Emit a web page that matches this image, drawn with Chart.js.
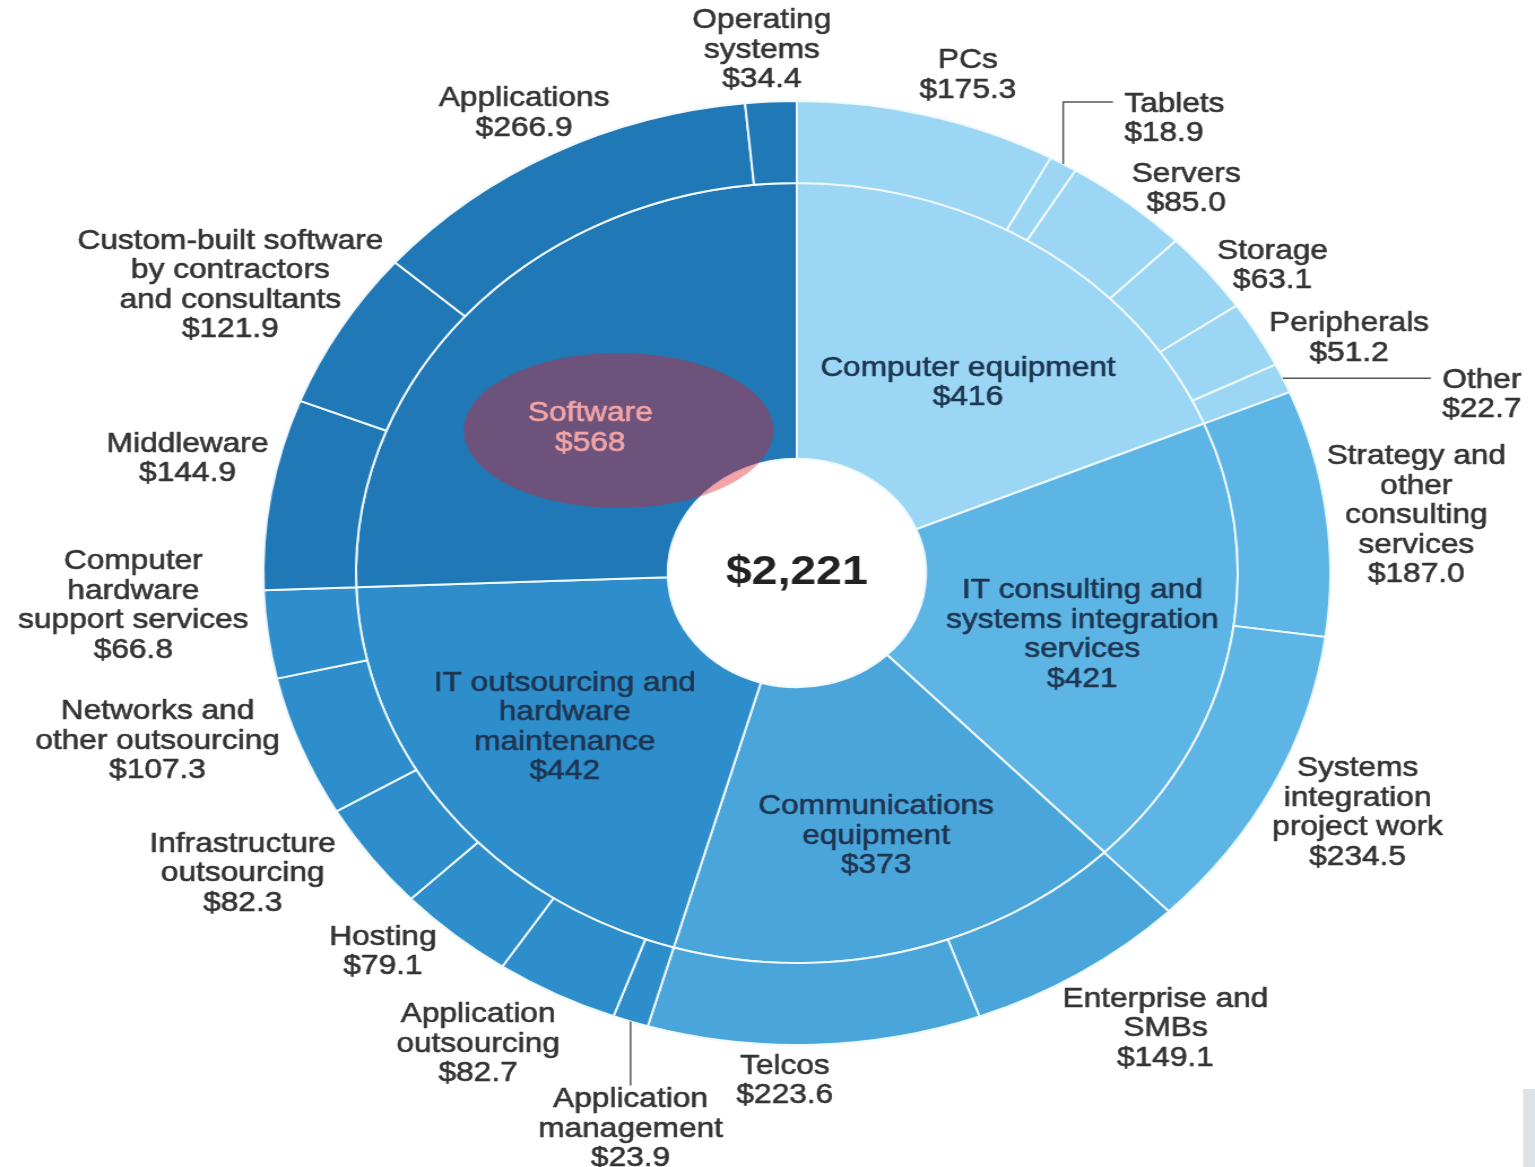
<!DOCTYPE html>
<html>
<head>
<meta charset="utf-8">
<script src="https://cdn.jsdelivr.net/npm/chart.js@4.4.1/dist/chart.umd.min.js"></script>
<style>
  html, body { margin: 0; padding: 0; background: #fff; overflow: hidden; }
  #wrap { position: absolute; left: 0; top: 0; width: 1358px; height: 1167px;
          transform: scaleX(1.1303); transform-origin: 0 0; }
</style>
</head>
<body>
<div id="wrap"><canvas id="myChart" width="1358" height="1167"></canvas></div>
<script>
// inner ring
const categories = ['Computer equipment', 'IT consulting and\nsystems integration\nservices', 'Communications\nequipment', 'IT outsourcing and\nhardware\nmaintenance', 'Software'];
const categoryValues = [416, 421, 373, 442, 568];
const categoryColors = ['#9bd7f4', '#5cb5e5', '#4aa5db', '#2e8dcb', '#2178b7'];

// outer ring
const subCategories = [
  'PCs', 'Tablets', 'Servers', 'Storage', 'Peripherals', 'Other',
  'Strategy and\nother\nconsulting\nservices', 'Systems\nintegration\nproject work',
  'Enterprise and\nSMBs', 'Telcos',
  'Application\nmanagement', 'Application\noutsourcing', 'Hosting', 'Infrastructure\noutsourcing',
  'Networks and\nother outsourcing', 'Computer\nhardware\nsupport services',
  'Middleware', 'Custom-built software\nby contractors\nand consultants', 'Applications', 'Operating\nsystems'
];
const subValues = [175.3, 18.9, 85.0, 63.1, 51.2, 22.7, 187.0, 234.5, 149.1, 223.6, 23.9, 82.7, 79.1, 82.3, 107.3, 66.8, 144.9, 121.9, 266.9, 34.4];
const subGroup = [0, 0, 0, 0, 0, 0, 1, 1, 2, 2, 3, 3, 3, 3, 3, 3, 4, 4, 4, 4];
const total = 2221;

// label placement: [distance from centre, angle nudge in degrees]
const subLabelPlace = [[520, 2.7], null, [516, 3.5], [521, 3.5], [542, 4.7], null, [551, 1.4], [551, -1], [560, -3.5], [508, 3.1],
  null, [549, 4.1], [527, 4.1], [575, 5.5], [590, 5.1], [588, 4.3], [551, 2.3], [578, -1.4], [519, -0.5], [524, -0.6]];
const catLabelPlace = [[243, 4.8], [260, 2.2], [272, -0.9], [257, 1.0], [233, -5.6]];
const leaders = { 1: { up: 62, right: 44 }, 5: { right: 131 }, 10: { down: 64 } };

const LH = 29.5;
function drawLines(ctx, lines, x, y, align) {
  ctx.textAlign = align;
  lines.forEach((t, k) => {
    ctx.strokeText(t, x, y + k * LH);
    ctx.fillText(t, x, y + k * LH);
  });
}

const labelPlugin = {
  id: 'sunLabels',
  afterDatasetsDraw(chart) {
    const ctx = chart.ctx;
    ctx.save();
    ctx.font = '28px "Liberation Sans", Arial, sans-serif';
    ctx.textBaseline = 'middle';
    ctx.lineJoin = 'round';

    // outer labels
    chart.getDatasetMeta(0).data.forEach((arc, i) => {
      const p = arc.getProps(['x', 'y', 'startAngle', 'endAngle', 'outerRadius'], true);
      const mid = (p.startAngle + p.endAngle) / 2;
      const lines = (subCategories[i] + '\n$' + subValues[i].toFixed(1)).split('\n');
      const ld = leaders[i];
      if (ld) {
        let x = p.x + p.outerRadius * Math.cos(mid), y = p.y + p.outerRadius * Math.sin(mid);
        ctx.beginPath();
        ctx.moveTo(x, y);
        if (ld.up) { y -= ld.up; ctx.lineTo(x, y); }
        if (ld.down) { y += ld.down; ctx.lineTo(x, y); }
        if (ld.right) { x += ld.right; ctx.lineTo(x, y); }
        ctx.strokeStyle = '#555';
        ctx.lineWidth = 1.5;
        ctx.stroke();
        ctx.fillStyle = '#333';
        ctx.strokeStyle = '#333';
        ctx.lineWidth = 0.6;
        if (ld.right) drawLines(ctx, lines, x + 10, y + 2, 'left');
        else drawLines(ctx, lines, x, y + 14, 'center');
      } else {
        const [r, da] = subLabelPlace[i];
        const a = mid + da * Math.PI / 180;
        const cx = p.x + r * Math.cos(a), cy = p.y + r * Math.sin(a);
        ctx.fillStyle = '#333';
        ctx.strokeStyle = '#333';
        ctx.lineWidth = 0.6;
        drawLines(ctx, lines, cx, cy - (lines.length - 1) * LH / 2, 'center');
      }
    });

    // inner labels
    let soft = null;
    chart.getDatasetMeta(1).data.forEach((arc, i) => {
      const p = arc.getProps(['x', 'y', 'startAngle', 'endAngle'], true);
      const mid = (p.startAngle + p.endAngle) / 2;
      const [r, da] = catLabelPlace[i];
      const a = mid + da * Math.PI / 180;
      const cx = p.x + r * Math.cos(a), cy = p.y + r * Math.sin(a);
      const lines = (categories[i] + '\n$' + categoryValues[i]).split('\n');
      const col = i === 4 ? '#fff' : '#1e3550';
      ctx.fillStyle = col;
      ctx.strokeStyle = col;
      ctx.lineWidth = 0.6;
      drawLines(ctx, lines, cx, cy - (lines.length - 1) * LH / 2, 'center');
      if (i === 4) soft = { x: cx, y: cy };
    });

    // highlight over Software
    if (soft) {
      ctx.beginPath();
      ctx.ellipse(soft.x + 25, soft.y + 2, 137, 77.5, 0, 0, Math.PI * 2);
      ctx.fillStyle = 'rgba(226, 28, 36, 0.4)';
      ctx.fill();
    }

    // total in the hole
    const c = chart.getDatasetMeta(1).data[0];
    ctx.fillStyle = '#222';
    ctx.font = 'bold 41px "Liberation Sans", Arial, sans-serif';
    ctx.textAlign = 'center';
    ctx.fillText('$' + total.toLocaleString('en-US'), c.x, c.y);

    ctx.fillStyle = '#dde2e6';
    ctx.fillRect(1347.5, 1089, 10.5, 78);
    ctx.restore();
  }
};

const ctx = document.getElementById('myChart').getContext('2d');

var chartData = {
  type: 'doughnut',
  data: {
    labels: subCategories,
    datasets: [{
      label: 'Segments',
      data: subValues,
      backgroundColor: subGroup.map(g => categoryColors[g]),
      borderColor: '#eef8fd',
      borderWidth: 2,
      weight: 82
    }, {
      label: 'Categories',
      data: categoryValues,
      backgroundColor: categoryColors,
      borderColor: '#eef8fd',
      borderWidth: 2,
      weight: 276
    }]
  },
  options: {
    responsive: false,
    animation: false,
    cutout: '24.2%',
    layout: { padding: { left: 232, top: 100, right: 180, bottom: 121 } },
    plugins: { legend: { display: false }, tooltip: { enabled: false } }
  },
  plugins: [labelPlugin]
};

var myChart = new Chart(ctx, chartData);
</script>
</body>
</html>
